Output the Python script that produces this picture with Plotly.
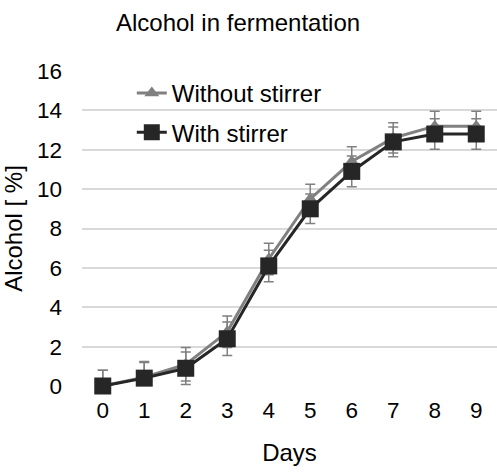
import plotly.graph_objects as go

days = [0, 1, 2, 3, 4, 5, 6, 7, 8, 9]
day_labels = ["0", "1", "2", "3", "4", "5", "6", "7", "8", "9"]
without_stirrer = [0.0, 0.45, 1.1, 2.75, 6.45, 9.5, 11.4, 12.6, 13.2, 13.2]
without_err = [0.8, 0.8, 0.85, 0.8, 0.8, 0.75, 0.75, 0.77, 0.75, 0.75]
with_stirrer = [0.0, 0.4, 0.9, 2.4, 6.1, 9.0, 10.9, 12.4, 12.8, 12.8]
with_err = [0.8, 0.8, 0.83, 0.85, 0.8, 0.75, 0.78, 0.75, 0.78, 0.78]
y_ticks = [0, 2, 4, 6, 8, 10, 12, 14, 16]

FONT = "Arial, Liberation Sans, sans-serif"
fig = go.Figure()
fig.add_trace(go.Scatter(
    x=days, y=without_stirrer, name="Without stirrer", mode="lines+markers",
    line=dict(color="#808080", width=3),
    marker=dict(symbol="triangle-up", size=13, color="#808080"),
    error_y=dict(type="data", array=without_err, visible=True, color="#808080", thickness=1.5, width=5),
    cliponaxis=False, legendgroup="a",
))
fig.add_trace(go.Scatter(
    x=days, y=with_stirrer, name="With stirrer", mode="lines+markers",
    line=dict(color="#262626", width=3),
    marker=dict(symbol="square", size=17, color="#262626"),
    error_y=dict(type="data", array=with_err, visible=True, color="#808080", thickness=1.5, width=5),
    cliponaxis=False, legendgroup="b",
))
fig.update_layout(
    width=497, height=473,
    margin=dict(l=82, r=0, t=70.5, b=87),
    paper_bgcolor="white", plot_bgcolor="white",
    font=dict(family=FONT, size=22.5, color="#000000"),
    title=dict(text="Alcohol in fermentation", x=0.479, xanchor="center", xref="container",
               y=0.952, yanchor="middle", font=dict(size=24, color="#000000")),
    showlegend=True,
    legend=dict(x=0.12, y=1.0, xanchor="left", yanchor="top", bgcolor="rgba(0,0,0,0)",
                font=dict(size=24), traceorder="grouped", tracegroupgap=5),
    xaxis=dict(
        tickmode="array", tickvals=days, ticktext=day_labels, range=[-0.5, 9.5],
        showgrid=False, zeroline=False, showline=False, ticks="",
        title=dict(text="Days", font=dict(size=24), standoff=22),
        ticklabelstandoff=8,
    ),
    yaxis=dict(
        tickmode="array", tickvals=y_ticks, range=[0, 16],
        showgrid=True, gridcolor="#d9d9d9", gridwidth=1.5,
        zeroline=False, showline=False, ticks="",
        title=dict(text="Alcohol [ %]", font=dict(size=24), standoff=7),
        ticklabelstandoff=19,
    ),
)
fig.write_html("out.html", config={"displayModeBar": False},
               post_script="document.body.style.margin='0';document.body.style.overflow='hidden';")
